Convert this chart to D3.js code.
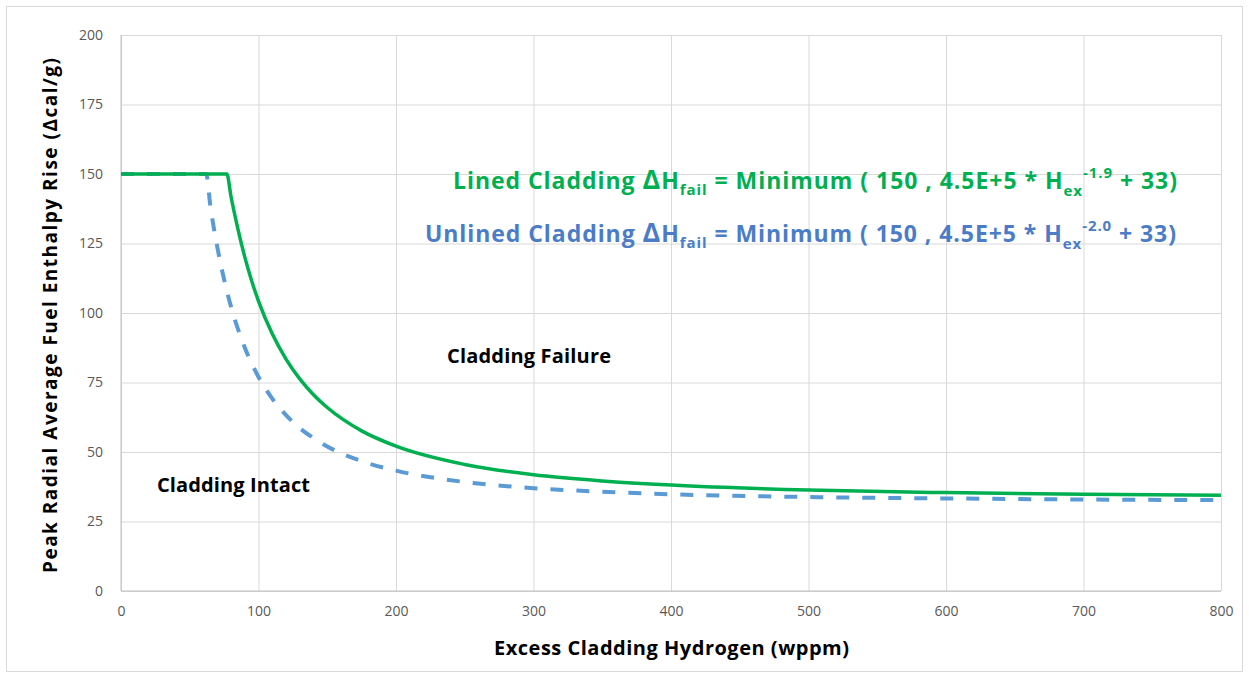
<!DOCTYPE html>
<html>
<head>
<meta charset="utf-8">
<script src="https://cdnjs.cloudflare.com/ajax/libs/d3/7.8.5/d3.min.js"></script>
<style>
  body { margin: 0; background: #fff; }
  text { font-family: "Open Sans", Lato, sans-serif; }
  .tick text { fill: #595959; font-size: 14px; font-family: "Open Sans", sans-serif; }
</style>
</head>
<body>
<div id="chart"></div>
<script>
// ---- data ----
const xTicks = [0, 100, 200, 300, 400, 500, 600, 700, 800];
const yTicks = [0, 25, 50, 75, 100, 125, 150, 175, 200];

// lined cladding (solid green)
const linedH   = [0, 40, 77, 80, 85, 90, 95, 100, 110, 120, 130, 140, 150, 175, 200, 250, 300, 350, 400, 500, 600, 700, 800];
const linedDH  = [150, 150, 150, 141.9, 130.3, 120.2, 111.6, 104.3, 92.5, 83.4, 76.3, 70.6, 66.0, 57.6, 52.1, 45.5, 41.8, 39.6, 38.1, 36.3, 35.4, 34.8, 34.4];

// unlined cladding (dashed blue)
const unlinedH  = [0, 40, 62, 65, 70, 75, 80, 90, 100, 110, 120, 130, 140, 150, 175, 200, 250, 300, 350, 400, 500, 600, 700, 800];
const unlinedDH = [150, 150, 150, 138.5, 123.8, 112, 102.3, 87.6, 77, 69.2, 63.3, 58.6, 55, 52, 46.7, 43.3, 39.2, 37, 35.7, 34.8, 33.8, 33.3, 32.9, 32.7];

// ---- layout ----
const svgW = 1249, svgH = 678;
const margin = { top: 35, right: 28, bottom: 87, left: 121 };
const width = svgW - margin.left - margin.right;
const height = svgH - margin.top - margin.bottom;

const svg = d3.select("#chart").append("svg")
  .attr("width", svgW)
  .attr("height", svgH);

// chart frame
svg.append("rect")
  .attr("x", 6.5).attr("y", 6.5)
  .attr("width", svgW - 13).attr("height", svgH - 13)
  .attr("fill", "#fff")
  .attr("stroke", "#D9D9D9");

const g = svg.append("g")
  .attr("transform", `translate(${margin.left}, ${margin.top})`);

const x = d3.scaleLinear().domain([0, 800]).range([0, width]);
const y = d3.scaleLinear().domain([0, 200]).range([height, 0]);

// gridlines + tick labels
const xAxis = g.append("g")
  .attr("transform", `translate(0, ${height})`)
  .call(d3.axisBottom(x).tickValues(xTicks).tickSize(-height).tickPadding(15));
xAxis.select(".domain").remove();
xAxis.selectAll("line").attr("stroke", "#D9D9D9");

const yAxis = g.append("g")
  .call(d3.axisLeft(y).tickValues(yTicks).tickSize(-width).tickPadding(18));
yAxis.select(".domain").remove();
yAxis.selectAll("line").attr("stroke", "#D9D9D9");

// axis baselines
g.append("line").attr("x1", 0).attr("x2", width).attr("y1", height).attr("y2", height)
  .attr("stroke", "#BFBFBF");
g.append("line").attr("x1", 0).attr("x2", 0).attr("y1", 0).attr("y2", height)
  .attr("stroke", "#BFBFBF");

// curves
const line = d3.line()
  .x(d => x(d[0]))
  .y(d => y(d[1]))
  .curve(d3.curveMonotoneX);

const unlined = unlinedH.map((h, i) => [h, unlinedDH[i]]);
const lined = linedH.map((h, i) => [h, linedDH[i]]);

g.append("path")
  .datum(unlined)
  .attr("d", line)
  .attr("fill", "none")
  .attr("stroke", "#5B9BD5")
  .attr("stroke-width", 4)
  .attr("stroke-dasharray", "13,13");

g.append("path")
  .datum(lined)
  .attr("d", line)
  .attr("fill", "none")
  .attr("stroke", "#00B050")
  .attr("stroke-width", 3.5);

// axis titles
svg.append("text")
  .attr("x", 494).attr("y", 655)
  .attr("textLength", 355)
  .attr("font-size", 20).attr("font-weight", "bold")
  .attr("fill", "#000")
  .text("Excess Cladding Hydrogen (wppm)");

svg.append("text")
  .attr("transform", "translate(57, 573) rotate(-90)")
  .attr("textLength", 515)
  .attr("font-size", 19).attr("font-weight", "bold")
  .attr("fill", "#000")
  .text("Peak Radial Average Fuel Enthalpy Rise (Δcal/g)");

// region labels
svg.append("text")
  .attr("x", 447).attr("y", 363)
  .attr("textLength", 164)
  .attr("font-size", 20).attr("font-weight", "bold")
  .text("Cladding Failure");

svg.append("text")
  .attr("x", 157).attr("y", 492)
  .attr("textLength", 153)
  .attr("font-size", 20).attr("font-weight", "bold")
  .text("Cladding Intact");

// equations
function equation(xPos, yPos, len, color, name, exp) {
  const t = svg.append("text")
    .attr("x", xPos).attr("y", yPos)
    .attr("textLength", len)
    .attr("fill", color)
    .attr("font-size", 23).attr("font-weight", "bold");
  t.append("tspan").text(name + " ");
  t.append("tspan").attr("font-size", 27).text("Δ");
  t.append("tspan").text("H");
  t.append("tspan").attr("font-size", 15).attr("dy", 6).text("fail");
  t.append("tspan").attr("dy", -6).text(" = Minimum ( 150 , 4.5E+5 * H");
  t.append("tspan").attr("font-size", 15).attr("dy", 7).text("ex");
  t.append("tspan").attr("font-size", 15).attr("dy", -18).text(exp);
  t.append("tspan").attr("dy", 11).text(" + 33)");
}
equation(453, 189, 724, "#00B050", "Lined Cladding", "-1.9");
equation(425, 242, 751, "#4A7CC8", "Unlined Cladding", "-2.0");
</script>
</body>
</html>
